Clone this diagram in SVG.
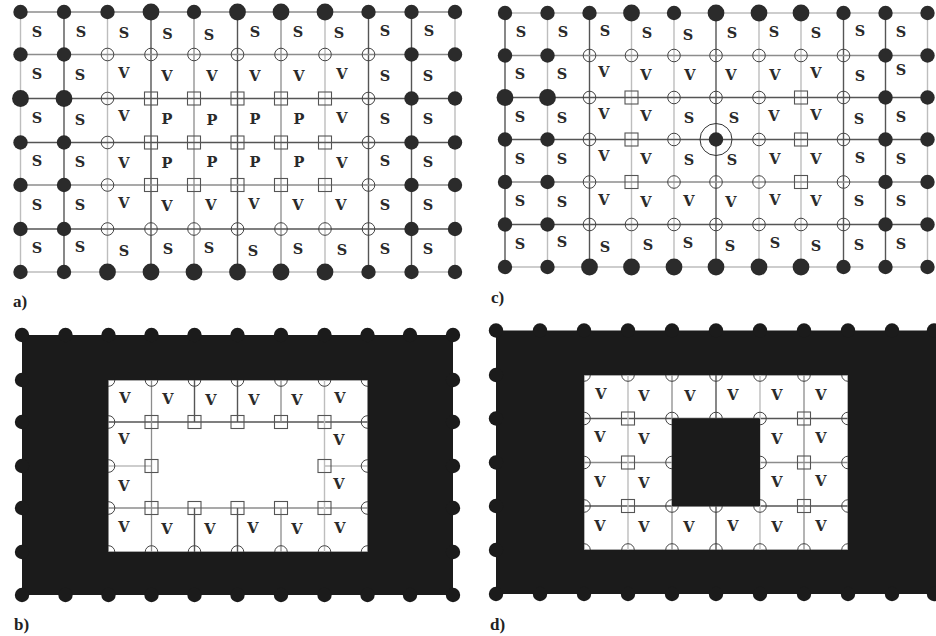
<svg xmlns="http://www.w3.org/2000/svg" width="936" height="636" viewBox="0 0 936 636">
<style>
.l{stroke:#bdbdbd;stroke-width:1.4;fill:none}
.m{stroke:#8c8c8c;stroke-width:1.3;fill:none}
.d{stroke:#555;stroke-width:1.4;fill:none}
.t{font-family:"DejaVu Serif",serif;font-weight:bold;font-size:14.5px;fill:#2a2a2a;text-anchor:middle}
.cap{font-family:"Liberation Serif",serif;font-weight:bold;font-size:17px;fill:#222}
.blk{fill:#1b1b1b;fill-rule:evenodd}
</style>
<defs>
<circle id="F" r="7.2" fill="#2b2b2b"/>
<circle id="G" r="8.4" fill="#2b2b2b"/>
<circle id="O" r="6.3" fill="none" stroke="#444" stroke-width="1"/>
<rect id="Q" x="-6.5" y="-6.5" width="13" height="13" fill="none" stroke="#555" stroke-width="1.1"/>
<circle id="B" r="7.2" fill="#1b1b1b"/>
</defs>

<!-- ================= PANEL A ================= -->
<g id="panel-a">
<g id="a-connectors">
<line class="l" x1="20.5" y1="12" x2="20.5" y2="272"/>
<line class="d" x1="64" y1="12" x2="64" y2="272"/>
<line class="l" x1="107.5" y1="12" x2="107.5" y2="272"/>
<line class="d" x1="151" y1="12" x2="151" y2="272"/>
<line class="m" x1="194" y1="12" x2="194" y2="272"/>
<line class="d" x1="237.5" y1="12" x2="237.5" y2="272"/>
<line class="m" x1="281" y1="12" x2="281" y2="272"/>
<line class="l" x1="325" y1="12" x2="325" y2="272"/>
<line class="d" x1="368.5" y1="12" x2="368.5" y2="272"/>
<line class="d" x1="411.5" y1="12" x2="411.5" y2="272"/>
<line class="l" x1="455" y1="12" x2="455" y2="272"/>
<line class="m" x1="20.5" y1="12" x2="455" y2="12"/>
<line class="m" x1="20.5" y1="54.5" x2="455" y2="54.5"/>
<line class="d" x1="20.5" y1="98.5" x2="455" y2="98.5"/>
<line class="d" x1="20.5" y1="142.5" x2="455" y2="142.5"/>
<line class="m" x1="20.5" y1="185" x2="455" y2="185"/>
<line class="d" x1="20.5" y1="229" x2="455" y2="229"/>
<line class="l" x1="20.5" y1="272" x2="455" y2="272"/>
</g>
<g id="a-nodes">
<use id="a00" href="#F" x="20.5" y="12"/><use id="a01" href="#F" x="64" y="12"/><use id="a02" href="#F" x="107.5" y="12"/><use id="a03" href="#G" x="151" y="12"/><use id="a04" href="#F" x="194" y="12"/><use id="a05" href="#G" x="237.5" y="12"/><use id="a06" href="#G" x="281" y="12"/><use id="a07" href="#G" x="325" y="12"/><use id="a08" href="#F" x="368.5" y="12"/><use id="a09" href="#F" x="411.5" y="12"/><use id="a010" href="#F" x="455" y="12"/>
<use id="a10" href="#F" x="20.5" y="54.5"/><use id="a11" href="#F" x="64" y="54.5"/><use id="a12" href="#O" x="107.5" y="54.5"/><use id="a13" href="#O" x="151" y="54.5"/><use id="a14" href="#O" x="194" y="54.5"/><use id="a15" href="#O" x="237.5" y="54.5"/><use id="a16" href="#O" x="281" y="54.5"/><use id="a17" href="#O" x="325" y="54.5"/><use id="a18" href="#O" x="368.5" y="54.5"/><use id="a19" href="#F" x="411.5" y="54.5"/><use id="a110" href="#F" x="455" y="54.5"/>
<use id="a20" href="#G" x="20.5" y="98.5"/><use id="a21" href="#G" x="64" y="98.5"/><use id="a22" href="#O" x="107.5" y="98.5"/><use id="a23" href="#Q" x="151" y="98.5"/><use id="a24" href="#Q" x="194" y="98.5"/><use id="a25" href="#Q" x="237.5" y="98.5"/><use id="a26" href="#Q" x="281" y="98.5"/><use id="a27" href="#Q" x="325" y="98.5"/><use id="a28" href="#O" x="368.5" y="98.5"/><use id="a29" href="#F" x="411.5" y="98.5"/><use id="a210" href="#F" x="455" y="98.5"/>
<use id="a30" href="#F" x="20.5" y="142.5"/><use id="a31" href="#F" x="64" y="142.5"/><use id="a32" href="#O" x="107.5" y="142.5"/><use id="a33" href="#Q" x="151" y="142.5"/><use id="a34" href="#Q" x="194" y="142.5"/><use id="a35" href="#Q" x="237.5" y="142.5"/><use id="a36" href="#Q" x="281" y="142.5"/><use id="a37" href="#Q" x="325" y="142.5"/><use id="a38" href="#O" x="368.5" y="142.5"/><use id="a39" href="#F" x="411.5" y="142.5"/><use id="a310" href="#F" x="455" y="142.5"/>
<use id="a40" href="#F" x="20.5" y="185"/><use id="a41" href="#F" x="64" y="185"/><use id="a42" href="#O" x="107.5" y="185"/><use id="a43" href="#Q" x="151" y="185"/><use id="a44" href="#Q" x="194" y="185"/><use id="a45" href="#Q" x="237.5" y="185"/><use id="a46" href="#Q" x="281" y="185"/><use id="a47" href="#Q" x="325" y="185"/><use id="a48" href="#O" x="368.5" y="185"/><use id="a49" href="#F" x="411.5" y="185"/><use id="a410" href="#F" x="455" y="185"/>
<use id="a50" href="#F" x="20.5" y="229"/><use id="a51" href="#F" x="64" y="229"/><use id="a52" href="#O" x="107.5" y="229"/><use id="a53" href="#O" x="151" y="229"/><use id="a54" href="#O" x="194" y="229"/><use id="a55" href="#O" x="237.5" y="229"/><use id="a56" href="#O" x="281" y="229"/><use id="a57" href="#O" x="325" y="229"/><use id="a58" href="#O" x="368.5" y="229"/><use id="a59" href="#F" x="411.5" y="229"/><use id="a510" href="#F" x="455" y="229"/>
<use id="a60" href="#F" x="20.5" y="272"/><use id="a61" href="#F" x="64" y="272"/><use id="a62" href="#G" x="107.5" y="272"/><use id="a63" href="#G" x="151" y="272"/><use id="a64" href="#G" x="194" y="272"/><use id="a65" href="#G" x="237.5" y="272"/><use id="a66" href="#G" x="281" y="272"/><use id="a67" href="#G" x="325" y="272"/><use id="a68" href="#F" x="368.5" y="272"/><use id="a69" href="#F" x="411.5" y="272"/><use id="a610" href="#F" x="455" y="272"/>
</g>
<g id="a-labels">
<text class="t" x="37" y="37">S</text><text class="t" x="81" y="37">S</text><text class="t" x="124" y="38">S</text><text class="t" x="167.5" y="39">S</text><text class="t" x="209" y="40">S</text><text class="t" x="255" y="37">S</text><text class="t" x="298" y="37">S</text><text class="t" x="339" y="38">S</text><text class="t" x="385" y="36">S</text><text class="t" x="429" y="36">S</text>
<text class="t" x="37" y="79">S</text><text class="t" x="80" y="80">S</text><text class="t" x="124" y="78">V</text><text class="t" x="167" y="81">V</text><text class="t" x="212" y="81">V</text><text class="t" x="255" y="81">V</text><text class="t" x="299" y="81">V</text><text class="t" x="342" y="79">V</text><text class="t" x="385" y="81">S</text><text class="t" x="428" y="81">S</text>
<text class="t" x="37" y="123">S</text><text class="t" x="80" y="125">S</text><text class="t" x="124" y="121">V</text><text class="t" x="167" y="124">P</text><text class="t" x="212" y="125">P</text><text class="t" x="255" y="124">P</text><text class="t" x="299" y="124">P</text><text class="t" x="342" y="123">V</text><text class="t" x="385" y="124">S</text><text class="t" x="428" y="124">S</text>
<text class="t" x="37" y="166">S</text><text class="t" x="80" y="167">S</text><text class="t" x="124" y="168">V</text><text class="t" x="167" y="168">P</text><text class="t" x="212" y="167">P</text><text class="t" x="255" y="167">P</text><text class="t" x="299" y="167">P</text><text class="t" x="342" y="168">V</text><text class="t" x="385" y="166">S</text><text class="t" x="428" y="167">S</text>
<text class="t" x="37" y="210">S</text><text class="t" x="80" y="210">S</text><text class="t" x="124" y="208">V</text><text class="t" x="167" y="211">V</text><text class="t" x="211" y="210">V</text><text class="t" x="254" y="209">V</text><text class="t" x="298" y="210">V</text><text class="t" x="341" y="210">V</text><text class="t" x="385" y="210">S</text><text class="t" x="428" y="210">S</text>
<text class="t" x="37" y="253">S</text><text class="t" x="80" y="252">S</text><text class="t" x="124" y="256">S</text><text class="t" x="168" y="254">S</text><text class="t" x="209" y="253">S</text><text class="t" x="253" y="256">S</text><text class="t" x="298" y="254">S</text><text class="t" x="342" y="255">S</text><text class="t" x="385" y="254">S</text><text class="t" x="428" y="254">S</text>
</g>
<text class="cap" x="13" y="307">a)</text>
</g>

<!-- ================= PANEL C ================= -->
<g id="panel-c">
<g id="c-connectors">
<line class="d" x1="505" y1="13" x2="505" y2="267"/>
<line class="l" x1="547.5" y1="13" x2="547.5" y2="267"/>
<line class="d" x1="589.5" y1="13" x2="589.5" y2="267"/>
<line class="l" x1="631.5" y1="13" x2="631.5" y2="267"/>
<line class="l" x1="674" y1="13" x2="674" y2="267"/>
<line class="d" x1="716" y1="13" x2="716" y2="267"/>
<line class="l" x1="759" y1="13" x2="759" y2="267"/>
<line class="l" x1="801" y1="13" x2="801" y2="267"/>
<line class="d" x1="843.5" y1="13" x2="843.5" y2="267"/>
<line class="d" x1="885.5" y1="13" x2="885.5" y2="267"/>
<line class="l" x1="927.5" y1="13" x2="927.5" y2="267"/>
<line class="l" x1="505" y1="13" x2="927.5" y2="13"/>
<line class="m" x1="505" y1="55.5" x2="927.5" y2="55.5"/>
<line class="d" x1="505" y1="97.5" x2="927.5" y2="97.5"/>
<line class="d" x1="505" y1="139.5" x2="927.5" y2="139.5"/>
<line class="m" x1="505" y1="182" x2="927.5" y2="182"/>
<line class="d" x1="505" y1="224.5" x2="927.5" y2="224.5"/>
<line class="l" x1="505" y1="267" x2="927.5" y2="267"/>
</g>
<g id="c-nodes">
<use id="c00" href="#F" x="505" y="13"/><use id="c01" href="#F" x="547.5" y="13"/><use id="c02" href="#F" x="589.5" y="13"/><use id="c03" href="#G" x="631.5" y="13"/><use id="c04" href="#F" x="674" y="13"/><use id="c05" href="#G" x="716" y="13"/><use id="c06" href="#G" x="759" y="13"/><use id="c07" href="#G" x="801" y="13"/><use id="c08" href="#F" x="843.5" y="13"/><use id="c09" href="#F" x="885.5" y="13"/><use id="c010" href="#F" x="927.5" y="13"/>
<use id="c10" href="#F" x="505" y="55.5"/><use id="c11" href="#F" x="547.5" y="55.5"/><use id="c12" href="#O" x="589.5" y="55.5"/><use id="c13" href="#O" x="631.5" y="55.5"/><use id="c14" href="#O" x="674" y="55.5"/><use id="c15" href="#O" x="716" y="55.5"/><use id="c16" href="#O" x="759" y="55.5"/><use id="c17" href="#O" x="801" y="55.5"/><use id="c18" href="#O" x="843.5" y="55.5"/><use id="c19" href="#F" x="885.5" y="55.5"/><use id="c110" href="#F" x="927.5" y="55.5"/>
<use id="c20" href="#G" x="505" y="97.5"/><use id="c21" href="#G" x="547.5" y="97.5"/><use id="c22" href="#O" x="589.5" y="97.5"/><use id="c23" href="#Q" x="631.5" y="97.5"/><use id="c24" href="#O" x="674" y="97.5"/><use id="c25" href="#O" x="716" y="97.5"/><use id="c26" href="#O" x="759" y="97.5"/><use id="c27" href="#Q" x="801" y="97.5"/><use id="c28" href="#O" x="843.5" y="97.5"/><use id="c29" href="#F" x="885.5" y="97.5"/><use id="c210" href="#F" x="927.5" y="97.5"/>
<use id="c30" href="#F" x="505" y="139.5"/><use id="c31" href="#F" x="547.5" y="139.5"/><use id="c32" href="#O" x="589.5" y="139.5"/><use id="c33" href="#Q" x="631.5" y="139.5"/><use id="c34" href="#O" x="674" y="139.5"/><use id="c35" href="#F" x="716" y="139.5"/><use id="c36" href="#O" x="759" y="139.5"/><use id="c37" href="#Q" x="801" y="139.5"/><use id="c38" href="#O" x="843.5" y="139.5"/><use id="c39" href="#F" x="885.5" y="139.5"/><use id="c310" href="#F" x="927.5" y="139.5"/>
<circle id="c35-ring" cx="716" cy="139.5" r="16" fill="none" stroke="#333" stroke-width="1"/>
<use id="c40" href="#F" x="505" y="182"/><use id="c41" href="#F" x="547.5" y="182"/><use id="c42" href="#O" x="589.5" y="182"/><use id="c43" href="#Q" x="631.5" y="182"/><use id="c44" href="#O" x="674" y="182"/><use id="c45" href="#O" x="716" y="182"/><use id="c46" href="#O" x="759" y="182"/><use id="c47" href="#Q" x="801" y="182"/><use id="c48" href="#O" x="843.5" y="182"/><use id="c49" href="#F" x="885.5" y="182"/><use id="c410" href="#F" x="927.5" y="182"/>
<use id="c50" href="#F" x="505" y="224.5"/><use id="c51" href="#F" x="547.5" y="224.5"/><use id="c52" href="#O" x="589.5" y="224.5"/><use id="c53" href="#O" x="631.5" y="224.5"/><use id="c54" href="#O" x="674" y="224.5"/><use id="c55" href="#O" x="716" y="224.5"/><use id="c56" href="#O" x="759" y="224.5"/><use id="c57" href="#O" x="801" y="224.5"/><use id="c58" href="#O" x="843.5" y="224.5"/><use id="c59" href="#F" x="885.5" y="224.5"/><use id="c510" href="#F" x="927.5" y="224.5"/>
<use id="c60" href="#F" x="505" y="267"/><use id="c61" href="#F" x="547.5" y="267"/><use id="c62" href="#G" x="589.5" y="267"/><use id="c63" href="#G" x="631.5" y="267"/><use id="c64" href="#G" x="674" y="267"/><use id="c65" href="#G" x="716" y="267"/><use id="c66" href="#G" x="759" y="267"/><use id="c67" href="#G" x="801" y="267"/><use id="c68" href="#F" x="843.5" y="267"/><use id="c69" href="#F" x="885.5" y="267"/><use id="c610" href="#F" x="927.5" y="267"/>
</g>
<g id="c-labels">
<text class="t" x="521" y="37">S</text><text class="t" x="563" y="37">S</text><text class="t" x="605" y="36">S</text><text class="t" x="647" y="38">S</text><text class="t" x="688" y="40">S</text><text class="t" x="732" y="38">S</text><text class="t" x="774" y="37">S</text><text class="t" x="816" y="38">S</text><text class="t" x="860" y="36">S</text><text class="t" x="901" y="37">S</text>
<text class="t" x="520" y="79">S</text><text class="t" x="562" y="79">S</text><text class="t" x="604" y="77">V</text><text class="t" x="646" y="80">V</text><text class="t" x="690" y="80">V</text><text class="t" x="731" y="80">V</text><text class="t" x="775" y="80">V</text><text class="t" x="816" y="78">V</text><text class="t" x="860" y="81">S</text><text class="t" x="901" y="75">S</text>
<text class="t" x="520" y="122">S</text><text class="t" x="562" y="123">S</text><text class="t" x="604" y="119">V</text><text class="t" x="646" y="121">V</text><text class="t" x="689" y="123">S</text><text class="t" x="734" y="123">S</text><text class="t" x="774" y="121">V</text><text class="t" x="816" y="120">V</text><text class="t" x="859" y="124">S</text><text class="t" x="901" y="122">S</text>
<text class="t" x="520" y="164">S</text><text class="t" x="562" y="164">S</text><text class="t" x="604" y="161">V</text><text class="t" x="646" y="164">V</text><text class="t" x="689" y="165">S</text><text class="t" x="732" y="165">S</text><text class="t" x="775" y="164">V</text><text class="t" x="816" y="164">V</text><text class="t" x="860" y="163">S</text><text class="t" x="901" y="164">S</text>
<text class="t" x="520" y="206">S</text><text class="t" x="562" y="207">S</text><text class="t" x="604" y="205">V</text><text class="t" x="646" y="207">V</text><text class="t" x="689" y="206">V</text><text class="t" x="731" y="207">V</text><text class="t" x="775" y="205">V</text><text class="t" x="816" y="206">V</text><text class="t" x="859" y="206">S</text><text class="t" x="901" y="206">S</text>
<text class="t" x="520" y="249">S</text><text class="t" x="562" y="247">S</text><text class="t" x="605" y="252">S</text><text class="t" x="648" y="250">S</text><text class="t" x="688" y="248">S</text><text class="t" x="730" y="251">S</text><text class="t" x="775" y="248">S</text><text class="t" x="816" y="251">S</text><text class="t" x="859" y="250">S</text><text class="t" x="901" y="249">S</text>
</g>
<text class="cap" x="491" y="303">c)</text>
</g>

<!-- ================= PANEL B ================= -->
<g id="panel-b">
<g id="b-connectors">
<line class="m" x1="108.5" y1="380" x2="367.5" y2="380"/>
<line class="d" x1="108.5" y1="422" x2="367.5" y2="422"/>
<line class="l" x1="108.5" y1="466" x2="151.5" y2="466"/>
<line class="l" x1="324.5" y1="466" x2="367.5" y2="466"/>
<line class="m" x1="108.5" y1="508" x2="367.5" y2="508"/>
<line class="m" x1="108.5" y1="552" x2="367.5" y2="552"/>
<line class="m" x1="151.5" y1="380" x2="151.5" y2="552"/>
<line class="d" x1="194.5" y1="380" x2="194.5" y2="422"/>
<line class="d" x1="194.5" y1="508" x2="194.5" y2="552"/>
<line class="d" x1="237.5" y1="380" x2="237.5" y2="422"/>
<line class="d" x1="237.5" y1="508" x2="237.5" y2="552"/>
<line class="m" x1="281" y1="380" x2="281" y2="422"/>
<line class="m" x1="281" y1="508" x2="281" y2="552"/>
<line class="l" x1="324.5" y1="380" x2="324.5" y2="552"/>
</g>
<g id="b-nodes">
<use id="b12" href="#O" x="108.5" y="380"/><use id="b13" href="#O" x="151.5" y="380"/><use id="b14" href="#O" x="194.5" y="380"/><use id="b15" href="#O" x="237.5" y="380"/><use id="b16" href="#O" x="281" y="380"/><use id="b17" href="#O" x="324.5" y="380"/><use id="b18" href="#O" x="367.5" y="380"/>
<use id="b52" href="#O" x="108.5" y="552"/><use id="b53" href="#O" x="151.5" y="552"/><use id="b54" href="#O" x="194.5" y="552"/><use id="b55" href="#O" x="237.5" y="552"/><use id="b56" href="#O" x="281" y="552"/><use id="b57" href="#O" x="324.5" y="552"/><use id="b58" href="#O" x="367.5" y="552"/>
<use id="b22" href="#O" x="108.5" y="422"/><use id="b32" href="#O" x="108.5" y="466"/><use id="b42" href="#O" x="108.5" y="508"/>
<use id="b28" href="#O" x="367.5" y="422"/><use id="b38" href="#O" x="367.5" y="466"/><use id="b48" href="#O" x="367.5" y="508"/>
<use id="b23" href="#Q" x="151.5" y="422"/><use id="b24" href="#Q" x="194.5" y="422"/><use id="b25" href="#Q" x="237.5" y="422"/><use id="b26" href="#Q" x="281" y="422"/><use id="b27" href="#Q" x="324.5" y="422"/>
<use id="b33" href="#Q" x="151.5" y="466"/><use id="b37" href="#Q" x="324.5" y="466"/>
<use id="b43" href="#Q" x="151.5" y="508"/><use id="b44" href="#Q" x="194.5" y="508"/><use id="b45" href="#Q" x="237.5" y="508"/><use id="b46" href="#Q" x="281" y="508"/><use id="b47" href="#Q" x="324.5" y="508"/>
</g>
<g id="b-solid">
<path class="blk" d="M22,335 H453 V595 H22 Z M108.5,380 V552 H367.5 V380 Z"/>
<use href="#B" x="22" y="335"/><use href="#B" x="65.5" y="335"/><use href="#B" x="108.5" y="335"/><use href="#B" x="151.5" y="335"/><use href="#B" x="194.5" y="335"/><use href="#B" x="237.5" y="335"/><use href="#B" x="281" y="335"/><use href="#B" x="324.5" y="335"/><use href="#B" x="367.5" y="335"/><use href="#B" x="410" y="335"/><use href="#B" x="453" y="335"/>
<use href="#B" x="22" y="595"/><use href="#B" x="65.5" y="595"/><use href="#B" x="108.5" y="595"/><use href="#B" x="151.5" y="595"/><use href="#B" x="194.5" y="595"/><use href="#B" x="237.5" y="595"/><use href="#B" x="281" y="595"/><use href="#B" x="324.5" y="595"/><use href="#B" x="367.5" y="595"/><use href="#B" x="410" y="595"/><use href="#B" x="453" y="595"/>
<use href="#B" x="22" y="380"/><use href="#B" x="22" y="422"/><use href="#B" x="22" y="466"/><use href="#B" x="22" y="508"/><use href="#B" x="22" y="552"/>
<use href="#B" x="453" y="380"/><use href="#B" x="453" y="422"/><use href="#B" x="453" y="466"/><use href="#B" x="453" y="508"/><use href="#B" x="453" y="552"/>
</g>
<g id="b-labels">
<text class="t" x="125" y="403">V</text><text class="t" x="168" y="404">V</text><text class="t" x="211" y="405">V</text><text class="t" x="254" y="405">V</text><text class="t" x="297" y="405">V</text><text class="t" x="340" y="403">V</text>
<text class="t" x="124" y="444">V</text><text class="t" x="339" y="445">V</text>
<text class="t" x="124" y="491">V</text><text class="t" x="339" y="489">V</text>
<text class="t" x="124" y="532">V</text><text class="t" x="167" y="534">V</text><text class="t" x="210" y="534">V</text><text class="t" x="253" y="533">V</text><text class="t" x="297" y="534">V</text><text class="t" x="340" y="533">V</text>
</g>
<text class="cap" x="14" y="630">b)</text>
</g>

<!-- ================= PANEL D ================= -->
<g id="panel-d">
<g id="d-connectors">
<line class="m" x1="584" y1="375" x2="848" y2="375"/>
<line class="d" x1="584" y1="418.5" x2="848" y2="418.5"/>
<line class="m" x1="584" y1="462.5" x2="848" y2="462.5"/>
<line class="d" x1="584" y1="506" x2="848" y2="506"/>
<line class="m" x1="584" y1="550" x2="848" y2="550"/>
<line class="m" x1="584" y1="375" x2="584" y2="550"/>
<line class="l" x1="628" y1="375" x2="628" y2="550"/>
<line class="m" x1="672" y1="375" x2="672" y2="550"/>
<line class="d" x1="716" y1="375" x2="716" y2="550"/>
<line class="l" x1="760" y1="375" x2="760" y2="550"/>
<line class="m" x1="804" y1="375" x2="804" y2="550"/>
<line class="m" x1="848" y1="375" x2="848" y2="550"/>
</g>
<g id="d-nodes">
<use id="d12" href="#O" x="584" y="375"/><use id="d13" href="#O" x="628" y="375"/><use id="d14" href="#O" x="672" y="375"/><use id="d15" href="#O" x="716" y="375"/><use id="d16" href="#O" x="760" y="375"/><use id="d17" href="#O" x="804" y="375"/><use id="d18" href="#O" x="848" y="375"/>
<use id="d52" href="#O" x="584" y="550"/><use id="d53" href="#O" x="628" y="550"/><use id="d54" href="#O" x="672" y="550"/><use id="d55" href="#O" x="716" y="550"/><use id="d56" href="#O" x="760" y="550"/><use id="d57" href="#O" x="804" y="550"/><use id="d58" href="#O" x="848" y="550"/>
<use id="d22" href="#O" x="584" y="418.5"/><use id="d32" href="#O" x="584" y="462.5"/><use id="d42" href="#O" x="584" y="506"/>
<use id="d28" href="#O" x="848" y="418.5"/><use id="d38" href="#O" x="848" y="462.5"/><use id="d48" href="#O" x="848" y="506"/>
<use id="d24" href="#O" x="672" y="418.5"/><use id="d25" href="#O" x="716" y="418.5"/><use id="d26" href="#O" x="760" y="418.5"/>
<use id="d34" href="#O" x="672" y="462.5"/><use id="d36" href="#O" x="760" y="462.5"/>
<use id="d44" href="#O" x="672" y="506"/><use id="d45" href="#O" x="716" y="506"/><use id="d46" href="#O" x="760" y="506"/>
<use id="d23" href="#Q" x="628" y="418.5"/><use id="d33" href="#Q" x="628" y="462.5"/><use id="d43" href="#Q" x="628" y="506"/>
<use id="d27" href="#Q" x="804" y="418.5"/><use id="d37" href="#Q" x="804" y="462.5"/><use id="d47" href="#Q" x="804" y="506"/>
</g>
<g id="d-solid">
<path class="blk" d="M496,330.5 H936 V594 H496 Z M584,375 V550 H848 V375 Z"/>
<rect class="blk" x="672" y="418.5" width="88" height="87.5"/>
<use href="#B" x="496" y="330.5"/><use href="#B" x="540" y="330.5"/><use href="#B" x="584" y="330.5"/><use href="#B" x="628" y="330.5"/><use href="#B" x="672" y="330.5"/><use href="#B" x="716" y="330.5"/><use href="#B" x="760" y="330.5"/><use href="#B" x="804" y="330.5"/><use href="#B" x="848" y="330.5"/><use href="#B" x="892" y="330.5"/><use href="#B" x="934" y="330.5"/>
<use href="#B" x="496" y="594"/><use href="#B" x="540" y="594"/><use href="#B" x="584" y="594"/><use href="#B" x="628" y="594"/><use href="#B" x="672" y="594"/><use href="#B" x="716" y="594"/><use href="#B" x="760" y="594"/><use href="#B" x="804" y="594"/><use href="#B" x="848" y="594"/><use href="#B" x="892" y="594"/><use href="#B" x="934" y="594"/>
<use href="#B" x="496" y="375"/><use href="#B" x="496" y="418.5"/><use href="#B" x="496" y="462.5"/><use href="#B" x="496" y="506"/><use href="#B" x="496" y="550"/>
</g>
<g id="d-labels">
<text class="t" x="601" y="399">V</text><text class="t" x="644" y="401">V</text><text class="t" x="690" y="401">V</text><text class="t" x="733" y="400">V</text><text class="t" x="777" y="400">V</text><text class="t" x="821" y="400">V</text>
<text class="t" x="600" y="442">V</text><text class="t" x="644" y="444">V</text><text class="t" x="777" y="444">V</text><text class="t" x="821" y="443">V</text>
<text class="t" x="600" y="487">V</text><text class="t" x="644" y="488">V</text><text class="t" x="777" y="487">V</text><text class="t" x="821" y="486">V</text>
<text class="t" x="600" y="531">V</text><text class="t" x="644" y="532">V</text><text class="t" x="689" y="532">V</text><text class="t" x="733" y="531">V</text><text class="t" x="777" y="532">V</text><text class="t" x="821" y="531">V</text>
</g>
<text class="cap" x="490" y="630">d)</text>
</g>
</svg>
